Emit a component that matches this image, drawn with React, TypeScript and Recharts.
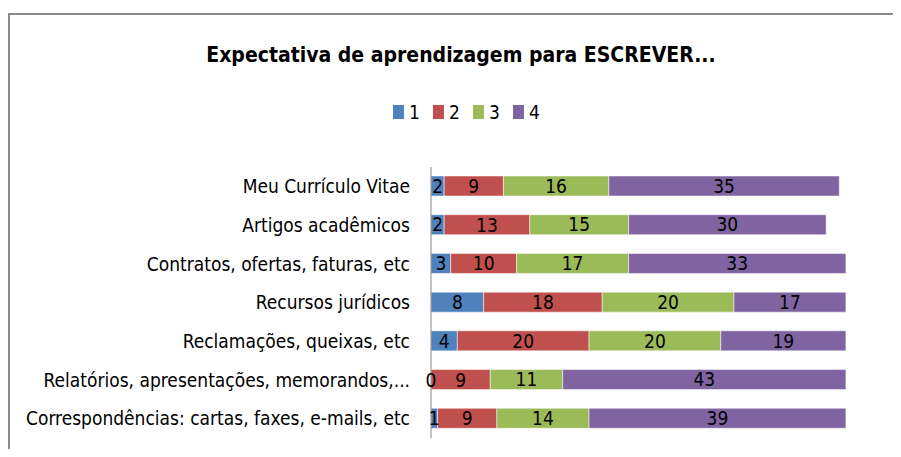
import React from 'react';
import { BarChart, Bar, XAxis, YAxis, LabelList } from 'recharts';

const categories = [
  'Meu Currículo Vitae',
  'Artigos acadêmicos',
  'Contratos, ofertas, faturas, etc',
  'Recursos jurídicos',
  'Reclamações, queixas, etc',
  'Relatórios, apresentações, memorandos,...',
  'Correspondências: cartas, faxes, e-mails, etc',
];
const serie1 = [2, 2, 3, 8, 4, 0, 1];
const serie2 = [9, 13, 10, 18, 20, 9, 9];
const serie3 = [16, 15, 17, 20, 20, 11, 14];
const serie4 = [35, 30, 33, 17, 19, 43, 39];
const seriesNames = ['1', '2', '3', '4'];
const colors = ['#4F81BD', '#C0504D', '#9BBB59', '#8064A2'];

const data = categories.map((name, i) => ({
  name,
  s1: serie1[i],
  s2: serie2[i],
  s3: serie3[i],
  s4: serie4[i],
}));

const FONT = "'Liberation Sans Narrow', 'DejaVu Sans Condensed', sans-serif";
const LABEL_SIZE = 19;

// serie 2 label; also prints serie 1's zero at the start of the bar (zero-width bars get no label)
const Serie2Label = (props: any) => {
  const { x, y, width, height, value, index } = props;
  const cy = y + height / 2;
  return (
    <g>
      <text x={x + width / 2} y={cy} textAnchor="middle" dominantBaseline="central" fill="#000" fontSize={LABEL_SIZE} fontFamily={FONT}>
        {value}
      </text>
      {serie1[index] === 0 && (
        <text x={x} y={cy} textAnchor="middle" dominantBaseline="central" fill="#000" fontSize={LABEL_SIZE} fontFamily={FONT}>
          {serie1[index]}
        </text>
      )}
    </g>
  );
};

const App = () => {
  const keys = ['s1', 's2', 's3', 's4'];
  return (
    <div style={{ position: 'relative', width: 901, height: 457, margin: -8, overflow: 'hidden', background: '#fff', fontFamily: FONT }}>
      <div style={{ position: 'absolute', left: 8, top: 13, width: 1000, height: 1000, border: '2px solid #8a8a8a' }} />
      <div style={{ position: 'absolute', left: 0, width: 922, top: 43, textAlign: 'center', fontSize: 21, fontWeight: 'bold', color: '#000' }}>
        Expectativa de aprendizagem para ESCREVER...
      </div>
      <div style={{ position: 'absolute', left: 393, top: 101, display: 'flex', fontSize: 19, color: '#000' }}>
        {seriesNames.map((s, i) => (
          <div key={s} style={{ display: 'flex', alignItems: 'center', width: 40 }}>
            <span style={{ display: 'inline-block', width: 11, height: 14, background: colors[i], marginRight: 5 }} />
            <span>{s}</span>
          </div>
        ))}
      </div>
      <div style={{ position: 'absolute', left: 0, top: 0 }}>
        <BarChart width={901} height={457} data={data} layout="vertical" margin={{ top: 167, right: 9, bottom: 19, left: 0 }}>
          <XAxis type="number" hide domain={[0, 70]} />
          <YAxis
            type="category"
            dataKey="name"
            width={431}
            axisLine={{ stroke: '#868686' }}
            tickLine={false}
            tickMargin={15}
            tick={{ fontSize: 19, fill: '#000', fontFamily: FONT }}
            interval={0}
          />
          {keys.map((k, i) => (
            <Bar key={k} dataKey={k} name={seriesNames[i]} stackId="a" fill={colors[i]} barSize={20} stroke="#ffffff" strokeOpacity={0.5} strokeWidth={1} isAnimationActive={false}>
              {k === 's2' ? (
                <LabelList dataKey={k} content={Serie2Label} />
              ) : (
                <LabelList dataKey={k} position="center" fill="#000" fontSize={LABEL_SIZE} fontFamily={FONT} />
              )}
            </Bar>
          ))}
        </BarChart>
      </div>
    </div>
  );
};

export default App;
